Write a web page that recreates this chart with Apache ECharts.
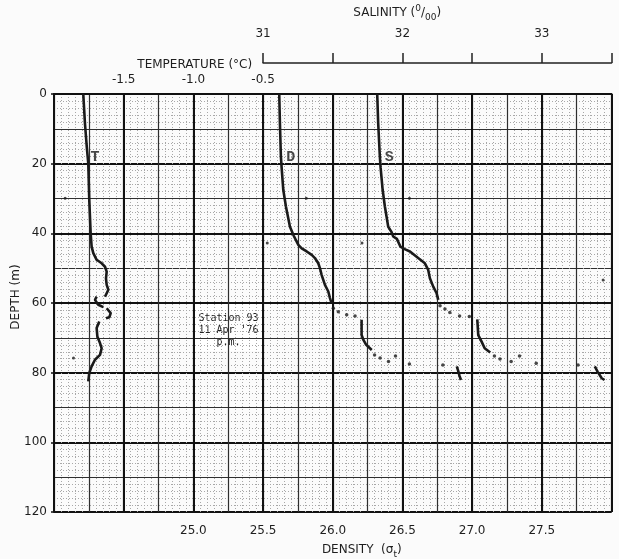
<!DOCTYPE html>
<html>
<head>
<meta charset="utf-8">
<script src="https://cdn.jsdelivr.net/npm/echarts@6/dist/echarts.min.js"></script>
<style>
html,body{margin:0;padding:0;background:#fbfbfb;}
#chart{width:619px;height:559px;}
</style>
</head>
<body>
<div id="chart"></div>
<script>
// ---------- data (value, depth m) ----------
const densityTicks = [25.0, 25.5, 26.0, 26.5, 27.0, 27.5];
const temperatureTicks = [-1.5, -1.0, -0.5];
const salinityTicks = [31, 32, 33];
const depthTicks = [0, 20, 40, 60, 80, 100, 120];

// Temperature (°C) trace segments
const tempTrace1 = [[-1.790,0],[-1.778,8.4],[-1.765,15.1],[-1.754,20],[-1.747,30.4],[-1.737,40],[-1.730,43.8],[-1.718,45.7],[-1.694,47.6],[-1.658,48.6],[-1.634,49.6],[-1.622,51],[-1.627,52.9],[-1.622,54.8],[-1.610,56.2],[-1.634,58.2]];
const tempTrace2 = [[-1.694,58.2],[-1.706,59.1],[-1.682,60.5],[-1.646,61.2]];
const tempTrace3 = [[-1.622,61.5],[-1.593,62.9],[-1.603,64.1],[-1.627,64.4]];
const tempTrace4 = [[-1.675,65.3],[-1.694,67.2],[-1.689,69.6],[-1.670,71.5],[-1.658,73],[-1.670,74.9],[-1.706,76.3],[-1.730,78.2],[-1.747,80.1],[-1.754,82.5]];

// Density (sigma-t) trace segments and plotted dots
const densTrace1 = [[25.616,0],[25.621,8.4],[25.628,18],[25.633,21],[25.645,27.5],[25.664,32.3],[25.693,38.1],[25.720,40.7],[25.753,43.3],[25.777,44.3],[25.813,45.2],[25.849,46.2],[25.872,47.1],[25.896,48.6],[25.908,50],[25.920,51.9],[25.944,54.8],[25.968,56.7],[25.980,58.6],[25.992,60.1]];
const densDots1 = [[26.004,61.5],[26.04,62.5],[26.10,63.4],[26.16,63.7]];
const densTrace2 = [[26.207,64.8],[26.207,69.2],[26.22,70.6],[26.24,72],[26.28,73.5]];
const densDots2 = [[26.30,74.9],[26.34,75.8],[26.40,76.8],[26.45,75.2],[26.55,77.5],[26.79,77.8]];
const densTrace3 = [[26.89,78.2],[26.90,79.5],[26.91,81],[26.92,82.1]];

// Salinity (‰) trace segments and plotted dots
const salTrace1 = [[31.819,0],[31.826,8.4],[31.838,18],[31.843,21],[31.858,27.5],[31.874,32.3],[31.898,38.1],[31.920,39.5],[31.934,40.9],[31.960,41.6],[31.985,43.8],[32.020,44.6],[32.054,45.2],[32.113,47.1],[32.161,48.6],[32.185,50.5],[32.197,52.9],[32.221,55.3],[32.245,57.2],[32.257,59.1]];
const salDots1 = [[32.27,60.8],[32.305,61.7],[32.34,62.7],[32.41,63.7],[32.48,63.9]];
const salTrace2 = [[32.537,64.7],[32.544,69.2],[32.568,71.1],[32.59,73],[32.63,74.2]];
const salDots2 = [[32.66,75.2],[32.70,76.1],[32.78,76.8],[32.84,75.2],[32.96,77.3],[33.26,77.8]];
const salTrace3 = [[33.38,78.2],[33.40,79.7],[33.43,81.6],[33.45,82.1]];

// Stray plotter dots (density scale)
const strayDots = [[24.08,29.9],[25.81,29.9],[25.53,42.8],[26.21,42.8],[26.55,29.9],[24.14,75.8],[27.94,53.4]];

// Curve letters
const tempLetter = [{name:'T', value:[-1.706,18.1]}];
const densLetter = [{name:'D', value:[25.698,18.1]}];
const salLetter  = [{name:'S', value:[31.905,18.1]}];

const stationText = "Station 93\n11 Apr '76\np.m.";

// ---------- chart ----------
const chart = echarts.init(document.getElementById('chart'), null, {renderer:'canvas'});
const FONT = 'DejaVu Sans';
const INK = '#1a1a1a';
const TXT = '#1e1e1e';
const GL = 54, GT = 94, GW = 557.5, GH = 418;
const hw = GW / 8;

function hiddenX(min, max, interval, lineStyle, gridIndex){
  return {type:'value', gridIndex: gridIndex||0, min, max, interval, position:'bottom',
    axisLine:{show:false}, axisTick:{show:false}, axisLabel:{show:false},
    splitLine: lineStyle ? {show:true, lineStyle} : {show:false}};
}
function hiddenY(interval, lineStyle){
  return {type:'value', gridIndex:0, min:0, max:120, interval, inverse:true, position:'left',
    axisLine:{show:false}, axisTick:{show:false}, axisLabel:{show:false},
    splitLine: lineStyle ? {show:true, lineStyle} : {show:false}};
}
const minorStyle = {color:'#a8a8a8', width:1, type:[1,2]};
const medStyle = {color:'#2e2e2e', width:1.2};
const majStyle = {color:'#111', width:2};

function lineS(data, xi){
  return {type:'line', xAxisIndex:xi, yAxisIndex:2, data, symbol:'none', silent:true,
    lineStyle:{color:INK, width:2.6}, z:5, animation:false};
}
function dotS(data, xi, size){
  return {type:'scatter', xAxisIndex:xi, yAxisIndex:2, data, symbolSize:size||3.5, silent:true,
    itemStyle:{color:INK}, z:5, animation:false};
}
function letterS(data, xi){
  return {type:'scatter', xAxisIndex:xi, yAxisIndex:2, data, symbolSize:0, silent:true, z:6,
    label:{show:true, position:'inside', formatter:'{b}', color:INK,
      fontFamily:'Liberation Mono', fontWeight:'bold', fontSize:15}, animation:false};
}

const option = {
  backgroundColor:'#fbfbfb',
  animation:false,
  grid:[
    {left:GL, top:GT, width:GW, height:GH, outerBoundsMode:'none', containLabel:false},
    {left:GL + 3*hw, top:53, width:5*hw, height:10, outerBoundsMode:'none', containLabel:false}
  ],
  xAxis:[
    hiddenX(24, 28, 0.05, minorStyle),
    hiddenX(24, 28, 0.25, medStyle),
    {type:'value', gridIndex:0, min:24, max:28, interval:0.5, position:'bottom',
      axisLine:{show:true, lineStyle:{color:'#111', width:2}}, axisTick:{show:false},
      axisLabel:{show:true, margin:13, color:TXT, fontFamily:FONT, fontSize:12,
        formatter: v => densityTicks.some(t => Math.abs(t - v) < 1e-6) ? v.toFixed(1) : ''},
      splitLine:{show:true, lineStyle:majStyle},
      name:'DENSITY  (σ{sub|t})', nameLocation:'middle', nameGap:29, nameMoveOverlap:false,
      nameTextStyle:{color:TXT, fontFamily:FONT, fontSize:12, padding:[0,0,0,58],
        rich:{sub:{fontSize:9, fontFamily:FONT, color:TXT, verticalAlign:'bottom', lineHeight:18}}}},
    {type:'value', gridIndex:0, min:-2, max:2, interval:0.5, position:'top',
      axisLine:{show:false}, axisTick:{show:false}, splitLine:{show:false},
      axisLabel:{show:true, margin:8, color:TXT, fontFamily:FONT, fontSize:12,
        formatter: v => temperatureTicks.some(t => Math.abs(t - v) < 1e-6) ? v.toFixed(1) : ''},
      name:'TEMPERATURE (°C)', nameLocation:'middle', nameGap:23, nameMoveOverlap:false,
      nameTextStyle:{color:TXT, fontFamily:FONT, fontSize:12, padding:[0,276,0,0]}},
    {type:'value', gridIndex:0, min:29.5, max:33.5, show:false},
    {type:'value', gridIndex:1, min:31, max:33.5, interval:0.5, position:'top',
      axisLine:{show:true, lineStyle:{color:'#222', width:1.5}},
      axisTick:{show:true, length:10, lineStyle:{color:'#222', width:1.5}},
      splitLine:{show:false},
      axisLabel:{show:true, margin:13, color:TXT, fontFamily:FONT, fontSize:12,
        formatter: v => salinityTicks.some(t => Math.abs(t - v) < 1e-6) ? String(Math.round(v)) : ''},
      name:'SALINITY ({sup|0}/{sub|00})', nameLocation:'middle', nameGap:31, nameMoveOverlap:false,
      nameTextStyle:{color:TXT, fontFamily:FONT, fontSize:12, padding:[0,80,0,0],
        rich:{sup:{fontSize:9, fontFamily:FONT, color:TXT, verticalAlign:'top', lineHeight:18},
              sub:{fontSize:9, fontFamily:FONT, color:TXT, verticalAlign:'bottom', lineHeight:18}}}}
  ],
  yAxis:[
    hiddenY(2, minorStyle),
    hiddenY(10, medStyle),
    {type:'value', gridIndex:0, min:0, max:120, interval:20, inverse:true, position:'left',
      axisLine:{show:true, lineStyle:{color:'#111', width:2}},
      axisTick:{show:true, length:3, lineStyle:{color:'#111', width:1.5}},
      axisLabel:{show:true, margin:7, color:TXT, fontFamily:FONT, fontSize:12,
        formatter: v => depthTicks.includes(v) ? String(v) : ''},
      splitLine:{show:true, lineStyle:majStyle},
      name:'DEPTH (m)', nameLocation:'middle', nameGap:32, nameMoveOverlap:false,
      nameTextStyle:{color:TXT, fontFamily:FONT, fontSize:12, padding:[0,0,0,12]}},
    {type:'value', gridIndex:1, min:0, max:1, show:false}
  ],
  graphic:[
    {type:'group', left:195, top:304, z:3, children:[
      {type:'rect', shape:{x:0, y:0, width:67, height:47}, style:{fill:'#ffffff'}},
      {type:'text', x:33.5, y:8, style:{text:stationText, align:'center', verticalAlign:'top',
        font:'10px "DejaVu Sans Mono"', lineHeight:12, fill:'#222'}}
    ]}
  ],
  series:[
    lineS(tempTrace1, 3), lineS(tempTrace2, 3), lineS(tempTrace3, 3), lineS(tempTrace4, 3),
    lineS(densTrace1, 2), dotS(densDots1, 2), lineS(densTrace2, 2), dotS(densDots2, 2), lineS(densTrace3, 2),
    lineS(salTrace1, 4), dotS(salDots1, 4), lineS(salTrace2, 4), dotS(salDots2, 4), lineS(salTrace3, 4),
    dotS(strayDots, 2, 3),
    letterS(tempLetter, 3), letterS(densLetter, 2), letterS(salLetter, 4)
  ]
};
chart.setOption(option);
</script>
</body>
</html>
